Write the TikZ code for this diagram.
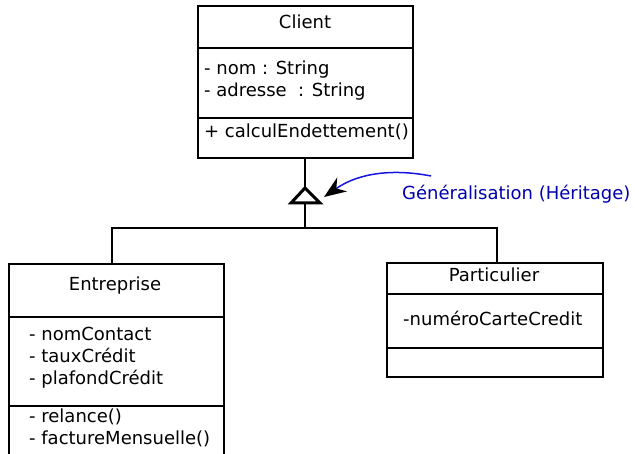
\documentclass[tikz,border=0pt]{standalone}
\usepackage{fontspec}
\setmainfont{DejaVu Sans}
\usetikzlibrary{arrows.meta}
\definecolor{labelblue}{RGB}{0,0,175}
\definecolor{curveblue}{RGB}{20,20,230}
\begin{document}
\begin{tikzpicture}[x=1pt,y=-1pt,
  font=\fontsize{18}{22}\selectfont,
  classbox/.style={draw, line width=2.2pt, inner sep=0pt, anchor=north west},
  divider/.style={line width=1.9pt},
  member/.style={anchor=base west, inner sep=0pt},
  title/.style={anchor=base, inner sep=0pt},
  link/.style={line width=1.3pt},
  genhead/.style={line width=3pt, line join=miter}]
\useasboundingbox (0,0) rectangle (635,454);
\clip (0,0) rectangle (635,454);

% class Client
\node[classbox, minimum width=215pt, minimum height=152pt] (client) at (197,5) {};
\draw[divider] (client.west |- 0,48) -- (client.east |- 0,48);
\draw[divider] (client.west |- 0,118) -- (client.east |- 0,118);
\node[title] (clientname) at (305,29) {Client};
\node[member] (nom) at (204,75) {- nom : String};
\node[member] (adresse) at (204,97) {- adresse\ \ : String};
\node[member] (calcul) at (204,138) {+ calculEndettement()};

% class Entreprise (runs past the lower edge)
\node[classbox, minimum width=215pt, minimum height=200pt] (entreprise) at (8,263) {};
\draw[divider] (entreprise.west |- 0,317) -- (entreprise.east |- 0,317);
\draw[divider] (entreprise.west |- 0,406) -- (entreprise.east |- 0,406);
\node[title] (entreprisename) at (115,291) {Entreprise};
\node[member] (nomcontact) at (29,341) {- nomContact};
\node[member] (taux) at (29,363) {- tauxCrédit};
\node[member] (plafond) at (29,385) {- plafondCrédit};
\node[member] (relance) at (29,422) {- relance()};
\node[member] (facture) at (29,445) {- factureMensuelle()};

% class Particulier
\node[classbox, minimum width=216pt, minimum height=114pt] (particulier) at (386,262) {};
\draw[divider] (particulier.west |- 0,294) -- (particulier.east |- 0,294);
\draw[divider] (particulier.west |- 0,348) -- (particulier.east |- 0,348);
\node[title] (particuliername) at (494,282) {Particulier};
\node[member] (carte) at (403,326) {-numéroCarteCredit};

% generalisation triangle and its tree of links
\coordinate (apex) at (305,188);
\coordinate (base) at (305,203);
\coordinate (fork) at (305,228);
\draw[genhead] (apex) -- (291,203) -- (320,203) -- cycle;
\draw[link] (apex |- client.south) -- (apex);
\draw[link] (base) -- (fork);
\draw[link] (entreprise.north -| 112,0) |- (fork) -| (particulier.north -| 497,0);

% note on the generalisation
\node[anchor=base west, inner sep=0pt, text=labelblue] (genlabel) at (402,200) {Généralisation (Héritage)};
\coordinate (notestart) at (431,176);
\coordinate (notetip) at (324,197);
\draw[curveblue, line width=1.5pt, -{Stealth[length=22pt, width=17pt, inset=7pt, black]}]
  (notestart) .. controls (395,169) and (360,172) .. (notetip);
\end{tikzpicture}
\end{document}
